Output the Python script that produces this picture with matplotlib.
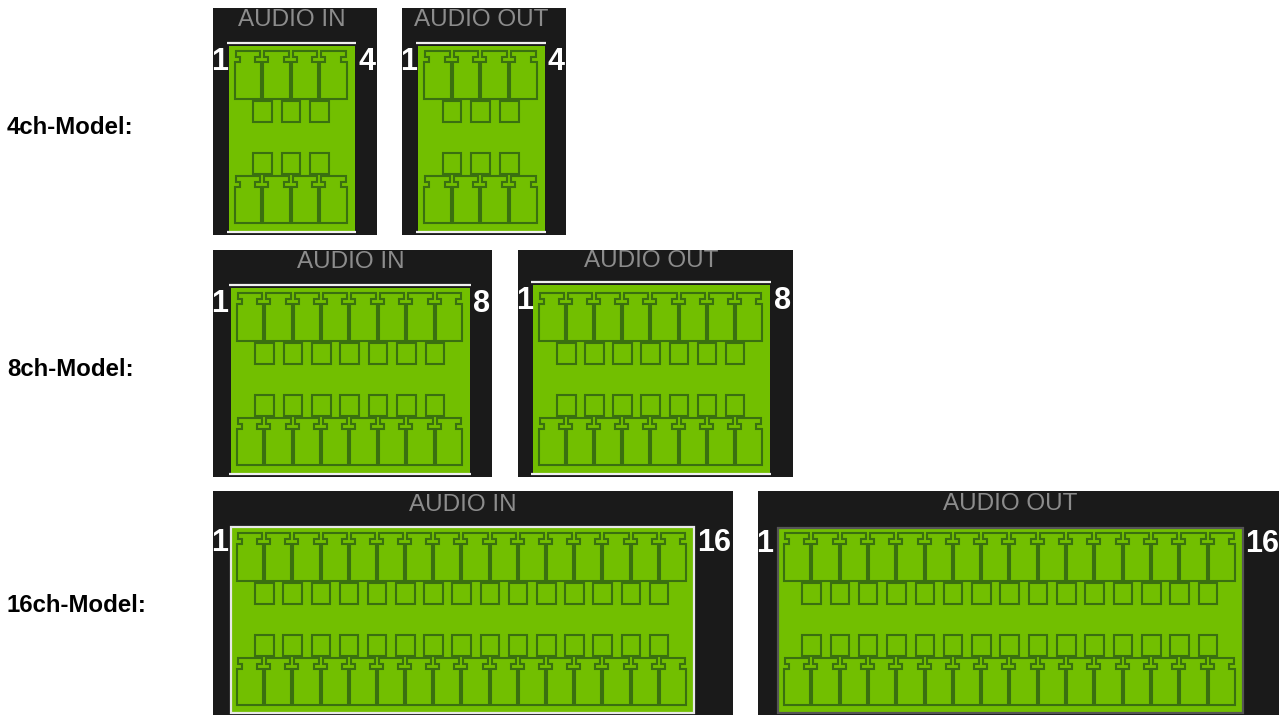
import matplotlib
matplotlib.use("Agg")
import matplotlib.pyplot as plt
from matplotlib.patches import Rectangle, Polygon

plt.rcParams['font.family'] = ['Liberation Sans', 'DejaVu Sans']

model_labels = ["4ch-Model:", "8ch-Model:", "16ch-Model:"]
model_label_y = [127, 369, 605]
channels = [4, 8, 16]
panel_titles = ["AUDIO IN", "AUDIO OUT"]

# black box x0, x1, y0, y1, green box x0, x1, y0, y1 and title y for each panel
panels = [
    (0, 0, (213, 377, 8, 235), (229, 355, 46, 231), 20),
    (0, 1, (402, 566, 8, 235), (418, 545, 46, 231), 20),
    (1, 0, (213, 492, 250, 477), (231, 470, 288, 473), 262),
    (1, 1, (518, 793, 250, 477), (533, 770, 285, 473), 261),
    (2, 0, (213, 733, 491, 715), (231, 694, 527, 713), 505),
    (2, 1, (758, 1279, 491, 715), (778, 1243, 528, 713), 504),
]

BLACK = "#1a1a1a"
GREEN = "#72bf00"
LINE = "#3a7010"


def connector(ax, x, y, w, h):
    pts = [(x, y + h), (x, y + 11), (x + 5, y + 11), (x + 5, y + 6), (x + 1, y + 6), (x + 1, y),
           (x + w - 1, y), (x + w - 1, y + 6), (x + w - 6, y + 6), (x + w - 6, y + 11),
           (x + w, y + 11), (x + w, y + h)]
    ax.add_patch(Polygon(pts, closed=True, fill=False, ec=LINE, lw=1.5))


def draw_panel(ax, row, side, black, green, title_y):
    n = channels[row]
    bx0, bx1, by0, by1 = black
    gx0, gx1, gy0, gy1 = green
    ax.add_patch(Rectangle((bx0, by0), bx1 - bx0, by1 - by0, fc=BLACK, ec="none"))
    ax.add_patch(Rectangle((gx0, gy0), gx1 - gx0, gy1 - gy0, fc=GREEN, ec="none"))

    # frame lines around the green area
    if row == 2:
        col = "#e8e8e8" if side == 0 else "#555555"
        ax.add_patch(Rectangle((gx0, gy0), gx1 - gx0, gy1 - gy0, fill=False, ec=col, lw=1.6))
    else:
        ax.plot([gx0 - 2, gx1 + 1], [gy0 - 3, gy0 - 3], color="#f0f0f0", lw=1.6, solid_capstyle="butt")
        ax.plot([gx0 - 2, gx1 + 1], [gy1 + 1, gy1 + 1], color="#f0f0f0", lw=1.6, solid_capstyle="butt")

    pitch = (gx1 - gx0 - 12) / n
    top = gy1 - 180
    for i in range(n):
        x = gx0 + 6 + i * pitch
        connector(ax, x, top, pitch - 2, 48)
        connector(ax, x, gy1 - 55, pitch - 2, 47)
    for i in range(n - 1):
        x = gx0 + 6 + pitch * (i + 1) - 10
        ax.add_patch(Rectangle((x, top + 50), 18.5, 21, fill=False, ec=LINE, lw=1.5))
        ax.add_patch(Rectangle((x, gy1 - 78), 18.5, 21, fill=False, ec=LINE, lw=1.5))

    ax.text((gx0 + gx1) / 2, title_y, panel_titles[side], color="#8c8c8c", fontsize=17.5,
            ha="center", va="center")
    ax.text(bx0 + 7, gy0 + 16, "1", color="white", fontsize=22, fontweight="bold",
            ha="center", va="center")
    ax.text((gx1 + bx1) / 2 + 1, gy0 + 16, str(n), color="white", fontsize=22, fontweight="bold",
            ha="center", va="center")


fig = plt.figure(figsize=(12.88, 7.15), dpi=100)
ax = fig.add_axes([0, 0, 1, 1])
ax.set_xlim(0, 1288)
ax.set_ylim(715, 0)
ax.axis("off")

for label, y in zip(model_labels, model_label_y):
    ax.text(7, y, label, fontsize=17.3, fontweight="bold", color="black", va="center")

for row, side, black, green, title_y in panels:
    draw_panel(ax, row, side, black, green, title_y)

fig.savefig("out.png", dpi=100, facecolor="white")
